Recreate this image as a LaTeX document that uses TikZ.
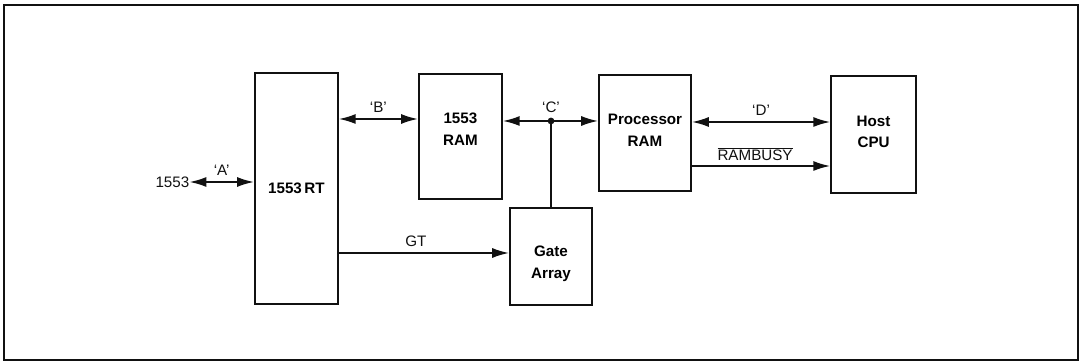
\documentclass[tikz,border=0pt]{standalone}
\usepackage{fontspec}
\setmainfont{Liberation Sans}
\usepackage{xcolor}
\usepackage{tikz}
\usetikzlibrary{positioning,arrows.meta,calc}
\definecolor{ink}{HTML}{111111}
\tikzset{
  blk/.style={draw=ink,line width=1.4pt,align=center,inner sep=2pt,
    font=\fontsize{10.8}{15.5}\selectfont\bfseries},
  flow/.style={-{Latex[length=4.2mm,width=2.5mm]},line width=1.2pt,draw=ink},
  flowb/.style={{Latex[length=4.2mm,width=2.5mm]}-{Latex[length=4.2mm,width=2.5mm]},line width=1.2pt,draw=ink},
  wire/.style={line width=1.2pt,draw=ink},
  lbl/.style={font=\fontsize{10.8}{12}\selectfont,text=ink,inner sep=1pt},
}

\begin{document}
\begin{tikzpicture}

\useasboundingbox (0,0) rectangle (27,9.075);
\draw[line width=1.2pt,draw=ink] (0.1,0.075) rectangle (26.95,8.95);

% ==== blocks ====
\node[blk,minimum width=2.075cm,minimum height=5.775cm] (rt)   at (7.41,4.36)  {1553\,RT};
\node[blk,minimum width=2.075cm,minimum height=3.125cm] (ram)  at (11.51,5.66) {1553\\RAM\\[-5.5pt]};
\node[blk,minimum width=2.3cm,minimum height=2.9cm]     (pram) at (16.125,5.75) {Processor\\RAM\\[-11.5pt]};
\node[blk,minimum width=2.125cm,minimum height=2.925cm] (cpu)  at (21.84,5.71) {Host\\CPU\\[-11.5pt]};
\node[blk,minimum width=2.05cm,minimum height=2.425cm]  (gate) at (13.775,2.66) {\\[2.3pt]Gate\\Array};

% ==== bus end ====
\node[lbl,inner sep=0pt] (bus) at (4.31,4.525) {1553};

% ==== 'A' and 'B' ====
\draw[flowb] (bus.east) -- (rt.west|-bus.east)
  node[midway,above=3pt,lbl]{`A'};
\draw[flowb] (rt.east|-0,6.1) -- (ram.west|-0,6.1)
  node[midway,above=3pt,lbl]{`B'};

% ==== 'C' with gate array tap ====
\coordinate (jC) at (gate.north|-0,6.05);
\draw[wire] (gate.north) -- (jC);
\draw[flow] (jC) -- (ram.east|-jC);
\draw[flow] (jC) -- (pram.west|-jC);
\fill[ink] (jC) circle (2.4pt);
\node[lbl,above=5pt] (lblC) at (jC) {`C'};

% ==== host side ====
\draw[flowb] (pram.east|-0,6.025) -- (cpu.west|-0,6.025)
  node[midway,above=3pt,lbl]{`D'};
\draw[flow] (pram.east|-0,4.925) -- (cpu.west|-0,4.925)
  node[midway,above=2pt,lbl,xshift=-1.5mm]{$\overline{\mbox{RAMBUSY}}$};

% ==== GT ====
\draw[flow] (rt.east|-0,2.75) -- (gate.west|-0,2.75)
  node[midway,above=3pt,lbl,xshift=-2mm]{GT};

\end{tikzpicture}
\end{document}
